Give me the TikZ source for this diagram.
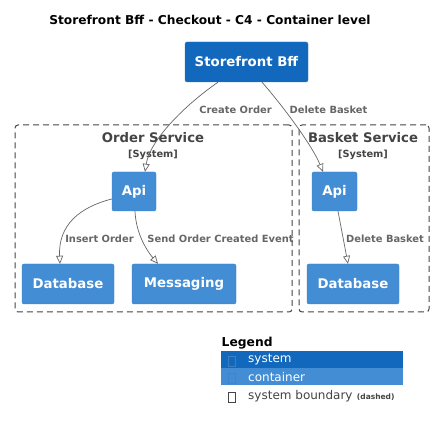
\documentclass[tikz,border=0pt]{standalone}
\usepackage{fontspec}
\setmainfont{DejaVu Sans}
\usetikzlibrary{arrows.meta}
\definecolor{sysblue}{HTML}{1168BD}
\definecolor{conblue}{HTML}{438DD5}
\definecolor{bordc}{HTML}{3C7FC0}
\definecolor{edgec}{HTML}{666666}
\definecolor{labc}{HTML}{666666}
\definecolor{bndc}{HTML}{444444}
\begin{document}
\begin{tikzpicture}[x=1pt,y=-1pt,
  sysbox/.style={draw=bordc, fill=sysblue, rounded corners=2pt, text=white, font=\bfseries\fontsize{13.3}{15}\selectfont, inner sep=0pt},
  conbox/.style={draw=bordc, fill=conblue, rounded corners=2pt, text=white, font=\bfseries\fontsize{13.3}{15}\selectfont, inner sep=0pt},
  rel/.style={draw=edgec, line width=0.7pt, -{Triangle[open,length=8pt,width=7pt]}},
  rellab/.style={text=labc, font=\bfseries\fontsize{9.9}{11}\selectfont, inner sep=0pt},
  bnd/.style={draw=bndc, dash pattern=on 6pt off 4pt, rounded corners=3pt, line width=1pt, inner sep=0pt},
  bndtitle/.style={text=bndc, font=\bfseries\fontsize{13.2}{15}\selectfont, inner sep=0pt},
  bndsub/.style={text=bndc, font=\bfseries\fontsize{9.8}{11}\selectfont, inner sep=0pt},
  legtxt/.style={font=\fontsize{12}{14}\selectfont, inner sep=0pt, anchor=west}
]
\useasboundingbox[fill=white] (0,0) rectangle (434,430);

% title
\node[font=\bfseries\fontsize{12.2}{14}\selectfont, inner sep=0pt] (title) at (210,20) {Storefront Bff - Checkout - C4 - Container level};

% boundaries
\node[bnd, minimum width=277pt, minimum height=187pt] (osb) at (153.5,218.5) {};
\node[bnd, minimum width=130pt, minimum height=187pt] (bsb) at (364,218.5) {};
\node[bndtitle] (osbt) at (153,138) {Order Service};
\node[bndsub] (osbs) at (153,155) {[System]};
\node[bndtitle] (bsbt) at (363,138) {Basket Service};
\node[bndsub] (bsbs) at (363,155) {[System]};

% nodes
\node[sysbox, minimum width=123pt, minimum height=40pt] (bff) at (246.5,62) {Storefront Bff};
\node[conbox, minimum width=44pt, minimum height=39pt] (oapi) at (134,191.5) {Api};
\node[conbox, minimum width=45pt, minimum height=39pt] (bapi) at (334.5,191.5) {Api};
\node[conbox, minimum width=92pt, minimum height=40pt] (odb) at (68,284) {Database};
\node[conbox, minimum width=104pt, minimum height=40pt] (msg) at (184,284) {Messaging};
\node[conbox, minimum width=92pt, minimum height=40pt] (bdb) at (353,284) {Database};

% relations
\draw[rel] ([xshift=-28.5pt]bff.south) .. controls (185,105) and (150,140) .. ([xshift=11pt]oapi.north);
\draw[rel] ([xshift=15.5pt]bff.south) .. controls (282,105) and (312,145) .. ([xshift=-11.5pt]bapi.north);
\draw[rel] ([yshift=-7.5pt]oapi.west) .. controls (80,207) and (58,225) .. ([xshift=-8pt]odb.north);
\draw[rel] ([xshift=1pt]oapi.south) .. controls (136,235) and (148,252) .. ([xshift=-26pt]msg.north);
\draw[rel] ([xshift=3.5pt]bapi.south) -- ([xshift=-5pt]bdb.north);

\node[rellab] (l1) at (235.5,110) {Create Order};
\node[rellab] (l2) at (328.5,110) {Delete Basket};
\node[rellab] (l3) at (99.5,239) {Insert Order};
\node[rellab] (l4) at (220.5,239) {Send Order Created Event};
\node[rellab] (l5) at (385,239) {Delete Basket};

% legend
\node[font=\bfseries\fontsize{12.3}{14}\selectfont, inner sep=0pt, anchor=west] (leg) at (221.5,343) {Legend};
\node[fill=sysblue, minimum width=182pt, minimum height=17pt, inner sep=0pt] (lsys) at (312,359.5) {};
\node[fill=conblue, minimum width=182pt, minimum height=17pt, inner sep=0pt] (lcon) at (312,376.5) {};
\node[draw=bordc, line width=0.6pt, minimum width=7pt, minimum height=10pt, inner sep=0pt] (sq1) at (232,361) {};
\node[draw=bordc!60!conblue, line width=0.6pt, minimum width=7pt, minimum height=10pt, inner sep=0pt] (sq2) at (232,378) {};
\node[draw=bndc, line width=0.6pt, minimum width=7pt, minimum height=10pt, inner sep=0pt] (sq3) at (232,397.5) {};
\node[legtxt, text=white] (t1) at (248,360) {system};
\node[legtxt, text=white] (t2) at (248,377) {container};
\node[legtxt, text=bndc] (t3) at (248,396.5) {system boundary};
\node[font=\bfseries\fontsize{7.5}{9}\selectfont, text=bndc, inner sep=0pt, anchor=base west] (t4) at ([xshift=4pt]t3.base east) {(dashed)};
\end{tikzpicture}
\end{document}
